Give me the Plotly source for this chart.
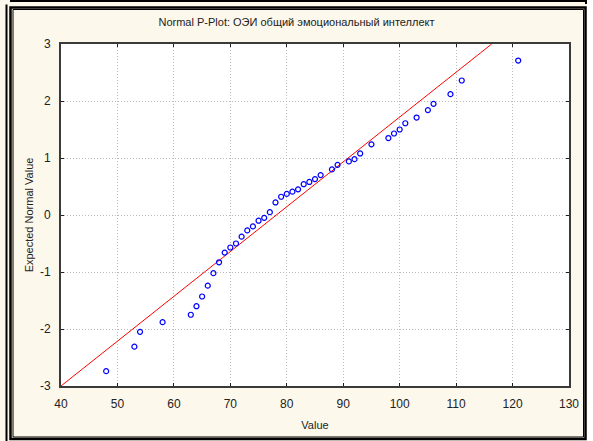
import plotly.graph_objects as go

# observed values (integer scores) and their expected normal values
values = [48, 53, 54, 58, 63, 64, 65, 66, 67, 68, 69, 70, 71, 72, 73, 74, 75, 76, 77,
          78, 79, 80, 81, 82, 83, 84, 85, 86, 88, 89, 91, 92, 93, 95, 98, 99, 100, 101,
          103, 105, 106, 109, 111, 121]
expected = [-2.74, -2.31, -2.05, -1.88, -1.75, -1.60, -1.43, -1.24, -1.02, -0.83, -0.66,
            -0.57, -0.50, -0.38, -0.27, -0.20, -0.10, -0.05, 0.05, 0.22, 0.32, 0.37, 0.41,
            0.45, 0.54, 0.58, 0.63, 0.70, 0.80, 0.88, 0.94, 0.98, 1.08, 1.24, 1.35, 1.43,
            1.50, 1.61, 1.71, 1.84, 1.95, 2.12, 2.36, 2.71]

# reference line (normal fit)
fit_x = [40, 116.3]
fit_y = [-3, 3]

x_ticks = [40, 50, 60, 70, 80, 90, 100, 110, 120, 130]
y_ticks = [-3, -2, -1, 0, 1, 2, 3]
y_labels = ["-3", "-2", "-1", "0", "1", "2", "3"]

title = "Normal P-Plot: ОЭИ общий эмоциональный интеллект"

W, H = 593, 441
L, R, T, B = 61, 24, 44, 55
pw, ph = W - L - R, H - T - B


def px(x):
    return (x - L) / pw


def py(y):
    return (H - B - y) / ph


fig = go.Figure()
fig.add_trace(go.Scatter(x=fit_x, y=fit_y, mode='lines',
                         line=dict(color='#FF0000', width=1), showlegend=False))
fig.add_trace(go.Scatter(x=values, y=expected, mode='markers',
                         marker=dict(symbol='circle-open', size=5, color='#0000FF',
                                     line=dict(width=1.2)),
                         showlegend=False))

font = dict(family="Liberation Sans, Arial, sans-serif", color="#222222")
axis_common = dict(showline=True, mirror='ticks', linecolor='#3A3A3A', linewidth=2,
                   showgrid=True, gridcolor='#BBBBBB', griddash='1px,2px', gridwidth=1,
                   zeroline=False, ticks='inside', ticklen=3, tickcolor='#202020',
                   tickfont=dict(size=12, **font), ticklabelstandoff=6)

fig.update_xaxes(range=[40, 130], tickvals=x_ticks,
                 title=dict(text="Value", font=dict(size=11, **font), standoff=11),
                 **axis_common)
fig.update_yaxes(range=[-3, 3], tickvals=y_ticks, ticktext=y_labels,
                 title=dict(text="Expected Normal Value", font=dict(size=11, **font), standoff=4),
                 **axis_common)

shapes = [
    # outer frame lines
    dict(type='rect', xref='paper', yref='paper', x0=px(587), x1=px(593), y0=py(0), y1=py(441),
         fillcolor='white', line=dict(width=0), layer='below'),
    dict(type='rect', xref='paper', yref='paper', x0=px(10.5), x1=px(585.5), y0=py(439), y1=py(7.5),
         line=dict(color='black', width=2.5)),
    dict(type='rect', xref='paper', yref='paper', x0=px(13), x1=px(583.5), y0=py(437), y1=py(9.5),
         line=dict(color='black', width=1)),
    dict(type='line', xref='paper', yref='paper', x0=px(6.5), x1=px(6.5), y0=py(441), y1=py(4.5),
         line=dict(color='black', width=2)),
    dict(type='line', xref='paper', yref='paper', x0=px(10), x1=px(587), y0=py(1), y1=py(1),
         line=dict(color='black', width=2)),
    dict(type='line', xref='paper', yref='paper', x0=px(586), x1=px(586), y0=py(0), y1=py(4),
         line=dict(color='black', width=2)),
]

fig.update_layout(
    width=W, height=H,
    margin=dict(l=L, r=R, t=T, b=B, autoexpand=False),
    paper_bgcolor='#FDF8EC', plot_bgcolor='white',
    title=dict(text=title, x=0.5, xanchor='center', y=1 - 22 / H, yanchor='middle',
               font=dict(size=11, **font)),
    shapes=shapes,
)

fig.write_html("out.html", config={'displayModeBar': False},
               post_script="document.body.style.margin='0';")
